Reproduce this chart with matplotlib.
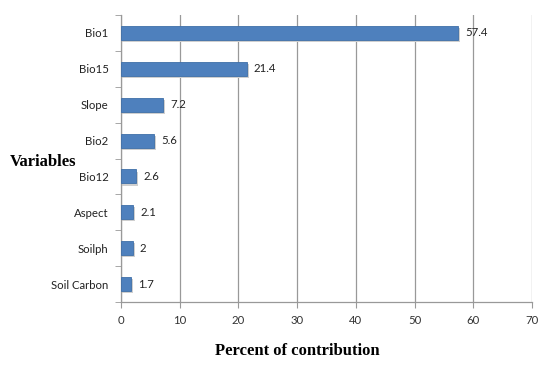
import numpy as np
import matplotlib.pyplot as plt

variables = ["Bio1", "Bio15", "Slope", "Bio2", "Bio12", "Aspect", "Soilph", "Soil Carbon"]
contribution = [57.4, 21.4, 7.2, 5.6, 2.6, 2.1, 2, 1.7]
labels = ["57.4", "21.4", "7.2", "5.6", "2.6", "2.1", "2", "1.7"]
xticks = [0, 10, 20, 30, 40, 50, 60, 70]

plt.rcParams['font.family'] = ['Lato', 'DejaVu Sans']
grid_col = '#999999'

fig = plt.figure(figsize=(5.5, 3.66), dpi=100)
ax = fig.add_axes([121/550, 1 - 302/366, (532-121)/550, (302-15)/366])

y = np.arange(len(variables))[::-1]
h = 0.39
# soft drop shadow, then the bar itself
ax.barh(y - 0.06, np.array(contribution) + 0.35, height=h, color='#cfcfcf', zorder=2)
ax.barh(y, contribution, height=h, color='#4e80bd', edgecolor='#3f6fa8', lw=0.6, zorder=3)

for yi, v, t in zip(y, contribution, labels):
    ax.text(v + 1.2, yi, t, va='center', ha='left', fontsize=8.2, color='#222222', zorder=4)

ax.set_xlim(0, 70)
ax.set_ylim(-0.5, len(variables) - 0.5)
ax.set_xticks(xticks)
ax.set_xticklabels([str(t) for t in xticks], fontsize=8.2, color='#333333')
ax.set_yticks(y)
ax.set_yticklabels(variables, fontsize=8.2, color='#222222')
ax.set_yticks(np.arange(len(variables) + 1) - 0.5, minor=True)

ax.tick_params(axis='y', which='major', length=0, pad=9)
ax.tick_params(axis='y', which='minor', length=4, color=grid_col, direction='out')
ax.tick_params(axis='x', length=4, color=grid_col, direction='out', pad=5)

ax.grid(axis='x', color=grid_col, lw=0.9, zorder=1)
ax.set_axisbelow(True)
for s in ['top', 'right']:
    ax.spines[s].set_visible(False)
for s in ['left', 'bottom']:
    ax.spines[s].set_color(grid_col)
    ax.spines[s].set_linewidth(0.9)

fig.text(10/550, 1 - 162/366, "Variables", fontsize=12, fontweight='bold',
         family='Liberation Serif', va='center', ha='left')
fig.text(297/550, 1 - 351/366, "Percent of contribution", fontsize=12, fontweight='bold',
         family='Liberation Serif', va='center', ha='center')

fig.savefig("out.png", dpi=100)
